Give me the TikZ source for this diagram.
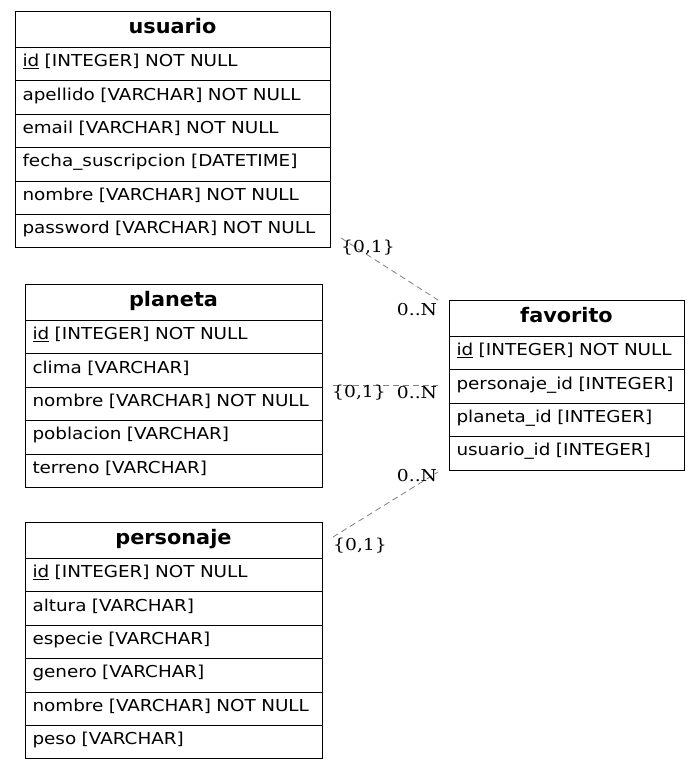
\documentclass[tikz,border=0pt]{standalone}
\usepackage{fontspec}
\setmainfont{DejaVu Sans}[FakeStretch=1.12]
\newfontfamily\hdrfont{DejaVu Sans}[FakeStretch=1.04]
\newfontfamily\cardfont{DejaVu Serif}[FakeStretch=1.14]
\usetikzlibrary{positioning,calc}

\tikzset{
  tbl/.style={draw,line width=1pt,outer sep=0pt,inner xsep=7.5pt,inner ysep=0pt,
    anchor=north west,text height=12pt,text depth=7.2pt,
    font=\fontsize{16.4}{18}\selectfont},
  hdr/.style={tbl,minimum height=36.5pt,align=center,text width=#1,
    text height=14pt,text depth=5.2pt,
    font=\hdrfont\fontsize{20}{22}\selectfont\bfseries},
  fld/.style={tbl,minimum height=33.4pt,align=left,text width=#1},
  rel/.style={draw=gray,line width=.8pt,dash pattern=on 6pt off 4pt},
  card/.style={inner sep=0pt,font=\cardfont\fontsize{16.4}{18}\selectfont},
}

\begin{document}
\begin{tikzpicture}[x=1pt,y=-1pt,node distance=0pt]
\useasboundingbox (0,0) rectangle (700,771);
% usuario
\node [hdr=300pt] (usu) at (15,11) {usuario};
\node [fld=300pt,below=of usu] (usu1) {\underline{id} [INTEGER] NOT NULL};
\node [fld=300pt,below=of usu1] (usu2) {apellido [VARCHAR] NOT NULL};
\node [fld=300pt,below=of usu2] (usu3) {email [VARCHAR] NOT NULL};
\node [fld=300pt,below=of usu3] (usu4) {fecha\_suscripcion [DATETIME]};
\node [fld=300pt,below=of usu4] (usu5) {nombre [VARCHAR] NOT NULL};
\node [fld=300pt,below=of usu5] (usu6) {password [VARCHAR] NOT NULL};
% planeta
\node [hdr=282pt] (pla) at (25,284) {planeta};
\node [fld=282pt,below=of pla] (pla1) {\underline{id} [INTEGER] NOT NULL};
\node [fld=282pt,below=of pla1] (pla2) {clima [VARCHAR]};
\node [fld=282pt,below=of pla2] (pla3) {nombre [VARCHAR] NOT NULL};
\node [fld=282pt,below=of pla3] (pla4) {poblacion [VARCHAR]};
\node [fld=282pt,below=of pla4] (pla5) {terreno [VARCHAR]};
% personaje
\node [hdr=282pt] (per) at (25,522) {personaje};
\node [fld=282pt,below=of per] (per1) {\underline{id} [INTEGER] NOT NULL};
\node [fld=282pt,below=of per1] (per2) {altura [VARCHAR]};
\node [fld=282pt,below=of per2] (per3) {especie [VARCHAR]};
\node [fld=282pt,below=of per3] (per4) {genero [VARCHAR]};
\node [fld=282pt,below=of per4] (per5) {nombre [VARCHAR] NOT NULL};
\node [fld=282pt,below=of per5] (per6) {peso [VARCHAR]};
% favorito
\node [hdr=220pt] (fav) at (449,300) {favorito};
\node [fld=220pt,below=of fav] (fav1) {\underline{id} [INTEGER] NOT NULL};
\node [fld=220pt,below=of fav1] (fav2) {personaje\_id [INTEGER]};
\node [fld=220pt,below=of fav2] (fav3) {planeta\_id [INTEGER]};
\node [fld=220pt,below=of fav3] (fav4) {usuario\_id [INTEGER]};
% relations
\coordinate (uA) at (341,238);
\coordinate (uB) at (438,300);
\coordinate (pA) at (333,385);
\coordinate (pB) at (438,385);
\coordinate (cA) at (333,537);
\coordinate (cB) at (438,472);
\draw [rel] (uA) -- (uB);
\draw [rel] (pA) -- (pB);
\draw [rel] (cA) -- (cB);
\node [card] (uAl) at (368,248) {\{0,1\}};
\node [card] (uBl) at (417,310) {0..N};
\node [card] (pAl) at (359,393) {\{0,1\}};
\node [card] (pBl) at (417,393) {0..N};
\node [card] (cAl) at (360,546) {\{0,1\}};
\node [card] (cBl) at (417,476) {0..N};
\end{tikzpicture}
\end{document}
